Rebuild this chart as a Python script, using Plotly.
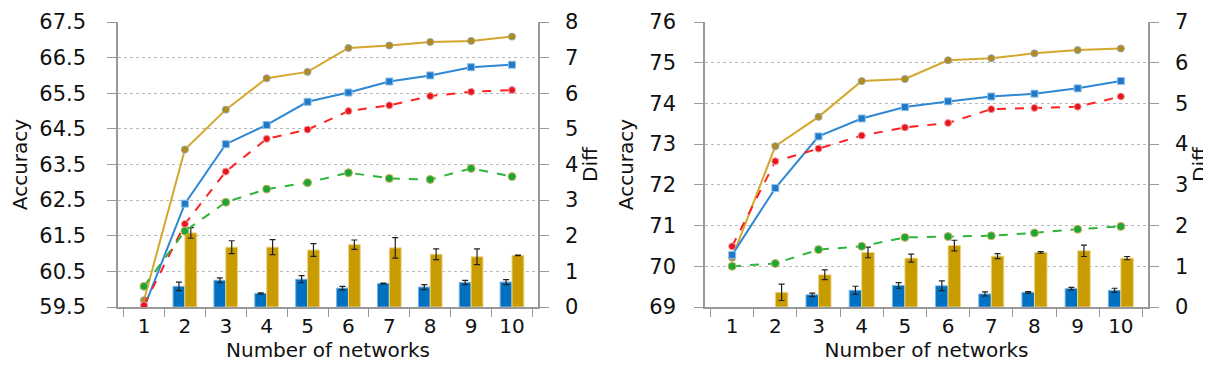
import plotly.graph_objects as go

FONT = "DejaVu Sans"

networks = [str(i) for i in range(1, 11)]

# left panel: accuracy lines
left_gold = [59.69, 63.92, 65.04, 65.92, 66.10, 66.77, 66.84, 66.94, 66.97, 67.09]
left_blue = [59.48, 62.40, 64.07, 64.61, 65.26, 65.52, 65.83, 66.00, 66.23, 66.30]
left_red = [59.55, 61.83, 63.30, 64.22, 64.48, 65.00, 65.16, 65.42, 65.54, 65.59]
left_green = [60.08, 61.63, 62.44, 62.81, 62.99, 63.27, 63.11, 63.08, 63.39, 63.16]
# left panel: diff bars
left_diff_blue = [None, 0.58, 0.75, 0.38, 0.78, 0.53, 0.66, 0.56, 0.69, 0.70]
left_diff_blue_err = [0, 0.12, 0.07, 0.02, 0.10, 0.05, 0.01, 0.07, 0.06, 0.07]
left_diff_gold = [None, 2.08, 1.68, 1.68, 1.60, 1.75, 1.66, 1.48, 1.41, 1.45]
left_diff_gold_err = [0, 0.15, 0.18, 0.21, 0.18, 0.13, 0.29, 0.15, 0.22, 0.01]

# right panel: accuracy lines
right_gold = [70.21, 72.95, 73.67, 74.55, 74.60, 75.06, 75.11, 75.23, 75.31, 75.35]
right_blue = [70.28, 71.92, 73.19, 73.63, 73.91, 74.05, 74.17, 74.24, 74.37, 74.55]
right_red = [70.49, 72.58, 72.89, 73.21, 73.41, 73.52, 73.86, 73.89, 73.92, 74.17]
right_green = [70.00, 70.07, 70.41, 70.49, 70.71, 70.73, 70.75, 70.82, 70.91, 70.98]
# right panel: diff bars
right_diff_blue = [None, None, 0.30, 0.41, 0.53, 0.52, 0.32, 0.36, 0.45, 0.41]
right_diff_blue_err = [0, 0, 0.04, 0.10, 0.07, 0.12, 0.05, 0.02, 0.03, 0.05]
right_diff_gold = [None, 0.36, 0.79, 1.34, 1.20, 1.51, 1.25, 1.34, 1.38, 1.20]
right_diff_gold_err = [0, 0.20, 0.12, 0.13, 0.10, 0.13, 0.06, 0.02, 0.14, 0.04]

GOLD = "#c89b00"
GOLD_LINE = "#d4a72c"
BLUE = "#0070c0"
BLUE_LINE = "#2f88d4"
RED = "#ff2222"
GREEN = "#2db53a"

fig = go.Figure()


def add_panel(xa, ybar, yline, gold, blue, red, green, dblue, dblue_e, dgold, dgold_e):
    for vals, err, col, edge in [(dblue, dblue_e, BLUE, "#7fb3e0"), (dgold, dgold_e, GOLD, "#ecd58a")]:
        fig.add_trace(go.Bar(
            x=networks, y=vals, xaxis=xa, yaxis=ybar,
            marker=dict(color=col, line=dict(color=edge, width=1)),
            error_y=dict(type="data", array=err, color="#222", thickness=1.2, width=3),
            showlegend=False,
        ))
    fig.add_trace(go.Scatter(
        x=networks, y=gold, xaxis=xa, yaxis=yline, mode="lines+markers",
        line=dict(color=GOLD_LINE, width=2),
        marker=dict(symbol="circle", size=7, color="#b08d1a", line=dict(color="#9aa0a8", width=1)),
        showlegend=False,
    ))
    fig.add_trace(go.Scatter(
        x=networks, y=blue, xaxis=xa, yaxis=yline, mode="lines+markers",
        line=dict(color=BLUE_LINE, width=2),
        marker=dict(symbol="square", size=7, color="#1f78c8", line=dict(color="#8ec0ea", width=1)),
        showlegend=False,
    ))
    fig.add_trace(go.Scatter(
        x=networks, y=red, xaxis=xa, yaxis=yline, mode="lines+markers",
        line=dict(color=RED, width=2, dash="dash"),
        marker=dict(symbol="circle", size=7, color="#e8141e", line=dict(color="#f0a0a0", width=1)),
        showlegend=False,
    ))
    fig.add_trace(go.Scatter(
        x=networks, y=green, xaxis=xa, yaxis=yline, mode="lines+markers",
        line=dict(color=GREEN, width=2, dash="dash"),
        marker=dict(symbol="circle", size=8, color="#1aa832", line=dict(color="#d6b068", width=1)),
        showlegend=False,
    ))


add_panel("x", "y", "y2", left_gold, left_blue, left_red, left_green,
          left_diff_blue, left_diff_blue_err, left_diff_gold, left_diff_gold_err)
add_panel("x2", "y3", "y4", right_gold, right_blue, right_red, right_green,
          right_diff_blue, right_diff_blue_err, right_diff_gold, right_diff_gold_err)

W, H = 1211, 369
xtickfont = dict(family=FONT, size=20, color="#111")
ytickfont = dict(family=FONT, size=21, color="#111")
titlefont = dict(family=FONT, size=20, color="#111")

xcommon = dict(
    type="category", tickson="boundaries", ticks="outside", ticklen=8, tickcolor="#999",
    showline=True, linecolor="#999", linewidth=1.5, tickfont=xtickfont,
    title=dict(text="Number of networks", font=titlefont, standoff=2),
    showgrid=False, fixedrange=True,
)
ycommon = dict(
    ticks="outside", ticklen=9, tickcolor="#999", showline=True, linecolor="#999",
    linewidth=1.5, tickfont=ytickfont, zeroline=False,
)
EPS = 1e-6

fig.update_layout(
    width=W, height=H,
    margin=dict(l=0, r=0, t=14, b=70),
    paper_bgcolor="white", plot_bgcolor="white",
    barmode="group", bargap=0.42, bargroupgap=0,
    xaxis=dict(domain=[110 / W, 530 / W], anchor="y", **xcommon),
    xaxis2=dict(domain=[697 / W, 1140 / W], anchor="y3", **xcommon),
    yaxis=dict(anchor="x", side="right", range=[-EPS, 8 + EPS], dtick=1, tick0=0,
               showgrid=True, gridcolor="#b8b8b8", griddash="dot", gridwidth=1,
               ticklabelstandoff=12,
               title=dict(text="Diff", font=titlefont, standoff=6), **ycommon),
    yaxis2=dict(anchor="x", overlaying="y", side="left", range=[59.5 - EPS, 67.5 + EPS], dtick=1,
                tick0=59.5, tickformat=".1f", showgrid=False, ticklabelstandoff=17,
                title=dict(text="Accuracy", font=titlefont, standoff=10), **ycommon),
    yaxis3=dict(anchor="x2", side="right", range=[-EPS, 7 + EPS], dtick=1, tick0=0,
                showgrid=True, gridcolor="#b8b8b8", griddash="dot", gridwidth=1,
                ticklabelstandoff=12,
                title=dict(text="Diff", font=titlefont, standoff=6), **ycommon),
    yaxis4=dict(anchor="x2", overlaying="y3", side="left", range=[69 - EPS, 76 + EPS], dtick=1,
                tick0=69, showgrid=False, ticklabelstandoff=14,
                title=dict(text="Accuracy", font=titlefont, standoff=10), **ycommon),
)

fig.write_html("out.html")
